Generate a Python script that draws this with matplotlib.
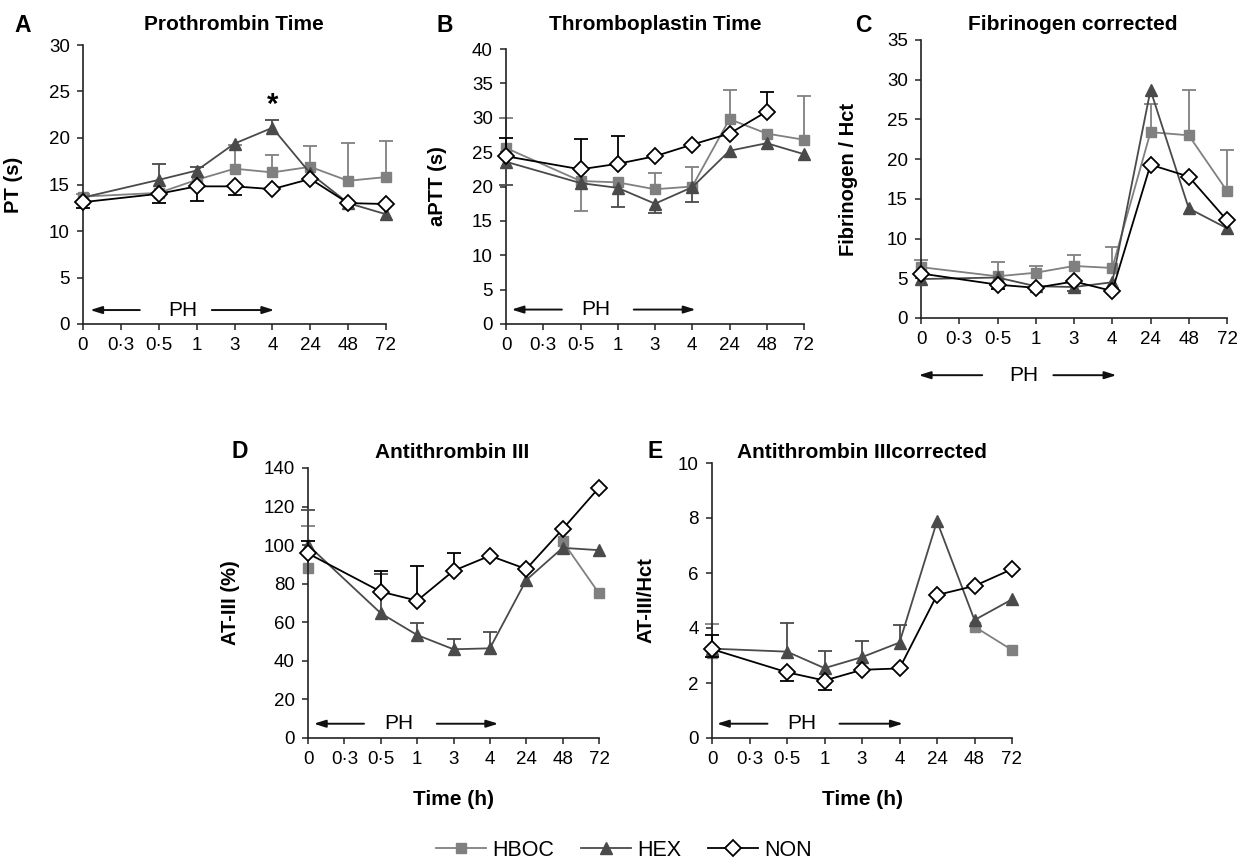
import numpy as np
import matplotlib
matplotlib.use("Agg")
import matplotlib.pyplot as plt
from matplotlib.lines import Line2D

plt.rcParams['font.family'] = ['Liberation Sans', 'DejaVu Sans']

nan = np.nan
x_labels = ['0', '0·3', '0·5', '1', '3', '4', '24', '48', '72']
x_pos = [0, 2, 3, 4, 5, 6, 7, 8]  # category indices with data (no samples at 0·3)

# ---- A: Prothrombin time (s)
pt_hboc = [13.7, 14.1, 15.5, 16.7, 16.3, 16.9, 15.4, 15.8]
pt_hboc_hi = [14.0, nan, nan, 19.2, 18.2, 19.1, 19.5, 19.7]
pt_hboc_lo = [nan] * 8
pt_hex = [13.6, 15.5, 16.5, 19.4, 21.1, 16.2, 13.0, 11.8]
pt_hex_hi = [nan, 17.2, 16.9, nan, 21.9, nan, nan, nan]
pt_hex_lo = [nan] * 8
pt_non = [13.1, 14.0, 14.8, 14.8, 14.5, 15.6, 13.0, 12.9]
pt_non_hi = [nan] * 8
pt_non_lo = [12.5, 13.0, 13.2, 13.9, nan, nan, nan, nan]

# ---- B: aPTT (s)
aptt_hboc = [25.6, 20.8, 20.6, 19.6, 20.0, 29.8, 27.7, 26.8]
aptt_hboc_hi = [29.9, nan, nan, 22.0, 22.8, 34.1, nan, 33.2]
aptt_hboc_lo = [nan, 16.5, nan, nan, nan, nan, nan, nan]
aptt_hex = [23.6, 20.5, 19.8, 17.5, 19.9, 25.2, 26.3, 24.7]
aptt_hex_hi = [nan] * 8
aptt_hex_lo = [20.2, nan, 17.0, 16.2, 17.7, nan, nan, nan]
aptt_non = [24.4, 22.5, 23.3, 24.4, 26.1, 27.7, 30.9, nan]
aptt_non_hi = [27.1, 26.9, 27.4, nan, nan, nan, 33.8, nan]
aptt_non_lo = [nan] * 8

# ---- C: Fibrinogen / Hct
fib_hboc = [6.4, 5.25, 5.7, 6.55, 6.3, 23.4, 23.0, 16.0]
fib_hboc_hi = [7.3, 7.06, 6.6, 7.9, 9.0, 26.9, 28.65, 21.1]
fib_hboc_lo = [nan] * 8
fib_hex = [4.9, 5.1, 4.0, 3.9, 4.5, 28.7, 13.8, 11.3]
fib_hex_hi = [nan] * 8
fib_hex_lo = [nan, nan, nan, 3.4, nan, nan, nan, nan]
fib_non = [5.6, 4.2, 3.8, 4.6, 3.4, 19.3, 17.8, 12.3]
fib_non_hi = [nan] * 8
fib_non_lo = [nan, 3.6, nan, nan, nan, nan, nan, nan]

# ---- D: AT-III (%)
at_hboc = [88, nan, nan, nan, nan, nan, 102, 75]
at_hboc_hi = [110, nan, nan, nan, nan, nan, nan, nan]
at_hboc_lo = [nan] * 8
at_hex = [100, 64.7, 53.4, 46.0, 46.5, 81.9, 98.6, 97.4]
at_hex_hi = [118, 85, 59.8, 51.4, 55.2, nan, nan, nan]
at_hex_lo = [nan] * 8
at_non = [95.7, 75.9, 71.2, 86.7, 94.5, 87.6, 108.3, 129.8]
at_non_hi = [102, 86.5, 89.3, 95.7, nan, nan, nan, nan]
at_non_lo = [nan] * 8

# ---- E: AT-III / Hct
atc_hboc = [3.08, nan, nan, nan, nan, nan, 4.05, 3.2]
atc_hboc_hi = [4.15, nan, nan, nan, nan, nan, nan, nan]
atc_hboc_lo = [nan] * 8
atc_hex = [3.25, 3.14, 2.54, 2.94, 3.47, 7.88, 4.29, 5.04]
atc_hex_hi = [nan, 4.2, 3.18, 3.54, 4.12, nan, nan, nan]
atc_hex_lo = [nan] * 8
atc_non = [3.23, 2.39, 2.09, 2.48, 2.53, 5.2, 5.53, 6.14]
atc_non_hi = [3.75, nan, nan, nan, nan, nan, nan, nan]
atc_non_lo = [2.94, 2.09, 1.73, nan, nan, nan, nan, nan]

series_names = ['HBOC', 'HEX', 'NON']

# ---- styles
C_HBOC = '#808080'
C_HEX = '#4a4a4a'
C_NON = '#000000'
styles = {
    'HBOC': dict(color=C_HBOC, marker='s', ms=6.5, mfc=C_HBOC, mec=C_HBOC, lw=1.3),
    'HEX': dict(color=C_HEX, marker='^', ms=8, mfc=C_HEX, mec=C_HEX, lw=1.3),
    'NON': dict(color=C_NON, marker='D', ms=8.3, mfc='white', mec=C_NON, mew=1.3, lw=1.3),
}

W, H = 1240, 860
fig = plt.figure(figsize=(W / 100, H / 100), dpi=100)


def rect(l, r, t, b):
    return [l / W, 1 - b / H, (r - l) / W, (b - t) / H]


def err(ax, y, ends, color, z):
    x = np.array(x_pos, float)
    y = np.array(y, float)
    e = np.array(ends, float)
    m = ~np.isnan(e) & ~np.isnan(y)
    if m.any():
        ax.vlines(x[m], y[m], e[m], colors=color, lw=1.3, zorder=z, clip_on=False)
        ax.plot(x[m], e[m], ls='none', marker='_', ms=10, mew=1.3, color=color,
                zorder=z, clip_on=False)


def panel(r, data, ymax, ystep, ylabel, title, letter, title_xy, letter_xy,
          ylab_x, ph, xlabel=None):
    ax = fig.add_axes(rect(*r))
    z = 2
    for name, (vals, hi, lo) in zip(series_names, data):
        st = styles[name]
        err(ax, vals, hi, st['color'], z)
        err(ax, vals, lo, st['color'], z)
        ax.plot(x_pos, vals, zorder=z + 0.5, clip_on=False, **st)
        z += 1
    ax.set_xlim(0, 8)
    ax.set_ylim(0, ymax)
    ax.set_yticks(np.arange(0, ymax + 0.001, ystep))
    ax.set_xticks(range(len(x_labels)))
    ax.set_xticklabels(x_labels)
    for s in ['top', 'right']:
        ax.spines[s].set_visible(False)
    for s in ['left', 'bottom']:
        ax.spines[s].set_linewidth(1.2)
        ax.spines[s].set_color('#222222')
    ax.tick_params(direction='out', length=4.5, width=1.1, labelsize=13.5, pad=5,
                   colors='#222222', labelcolor='black')
    ax.set_ylabel(ylabel, fontsize=14.5, fontweight='bold')
    ax.yaxis.set_label_coords(ylab_x, 0.5)
    if xlabel:
        ax.set_xlabel(xlabel, fontsize=15, fontweight='bold')
        ax.xaxis.set_label_coords(0.5, -52 / (r[3] - r[2]))
    fig.text(title_xy[0] / W, 1 - title_xy[1] / H, title, ha='center', va='center',
             fontsize=15, fontweight='bold')
    fig.text(letter_xy[0] / W, 1 - letter_xy[1] / H, letter, ha='center', va='center',
             fontsize=16.5, fontweight='bold')
    # PH arrows
    yph, lh, lt, tx, rt, rh = ph
    ap = dict(arrowstyle='-|>,head_length=0.7,head_width=0.22', color='#111111',
              lw=1.4, shrinkA=0, shrinkB=0)
    ax.annotate('', xy=(lh, yph), xytext=(lt, yph), arrowprops=ap, annotation_clip=False)
    ax.annotate('', xy=(rh, yph), xytext=(rt, yph), arrowprops=ap, annotation_clip=False)
    ax.text(tx, yph, 'PH', ha='center', va='center', fontsize=15, clip_on=False)
    return ax


axA = panel((83, 386, 45, 324),
            [(pt_hboc, pt_hboc_hi, pt_hboc_lo), (pt_hex, pt_hex_hi, pt_hex_lo),
             (pt_non, pt_non_hi, pt_non_lo)],
            30, 5, 'PT (s)', 'Prothrombin Time', 'A', (234, 25), (23, 25), -0.198,
            (1.5, 0.19, 1.5, 2.63, 3.4, 5.05))
axA.text(5, 23.6, '*', ha='center', va='center', fontsize=21, fontweight='bold')

panel((506, 804, 49, 324),
      [(aptt_hboc, aptt_hboc_hi, aptt_hboc_lo), (aptt_hex, aptt_hex_hi, aptt_hex_lo),
       (aptt_non, aptt_non_hi, aptt_non_lo)],
      40, 5, 'aPTT (s)', 'Thromboplastin Time', 'B', (655, 25), (445, 25), -0.198,
      (2.1, 0.15, 1.5, 2.4, 3.43, 5.09))

panel((921, 1227, 40, 318),
      [(fib_hboc, fib_hboc_hi, fib_hboc_lo), (fib_hex, fib_hex_hi, fib_hex_lo),
       (fib_non, fib_non_hi, fib_non_lo)],
      35, 5, 'Fibrinogen / Hct', 'Fibrinogen corrected', 'C', (1073, 25), (863, 25), -0.206,
      (-7.2, -0.06, 1.6, 2.7, 3.46, 5.11))

panel((308, 599, 468, 738),
      [(at_hboc, at_hboc_hi, at_hboc_lo), (at_hex, at_hex_hi, at_hex_lo),
       (at_non, at_non_hi, at_non_lo)],
      140, 20, 'AT-III (%)', 'Antithrombin III', 'D', (452, 453), (240, 452), -0.234,
      (7.4, 0.16, 1.54, 2.49, 3.54, 5.23), xlabel='Time (h)')

panel((712, 1012, 463, 738),
      [(atc_hboc, atc_hboc_hi, atc_hboc_lo), (atc_hex, atc_hex_hi, atc_hex_lo),
       (atc_non, atc_non_hi, atc_non_lo)],
      10, 2, 'AT-III/Hct', 'Antithrombin IIIcorrected', 'E', (862, 453), (655, 452), -0.19,
      (0.52, 0.13, 1.48, 2.4, 3.4, 5.09), xlabel='Time (h)')

handles = [Line2D([], [], **styles[n]) for n in series_names]
fig.legend(handles, series_names, loc='center', bbox_to_anchor=(624 / W, 1 - 850 / H),
           ncol=3, frameon=False, fontsize=15.5, handlelength=2.3, handletextpad=0.3,
           columnspacing=1.25)

fig.savefig('out.png', dpi=100)
